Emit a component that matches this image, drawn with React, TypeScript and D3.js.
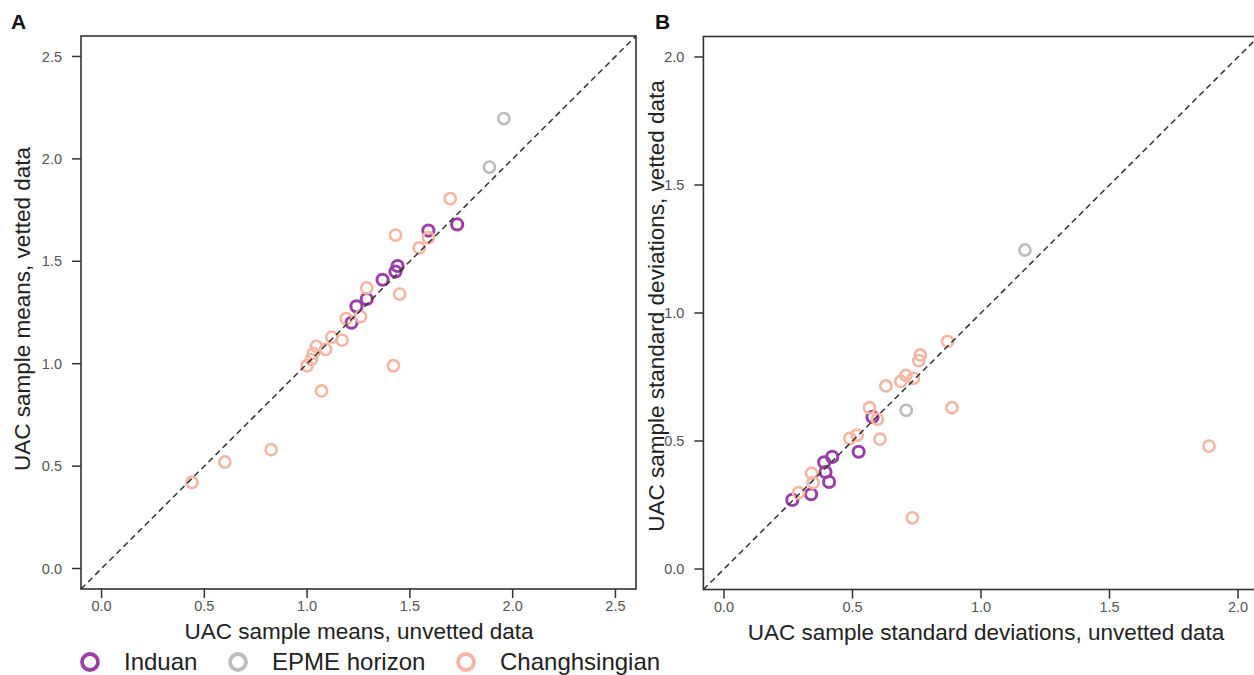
import React from "react";
import * as d3 from "d3";

// Panel A: sample means (unvetted x, vetted y)
const meansInduan = [
  [1.73, 1.68], [1.59, 1.65], [1.44, 1.477], [1.43, 1.45],
  [1.367, 1.41], [1.29, 1.316], [1.24, 1.28], [1.216, 1.2],
];
const meansEpme = [[1.957, 2.197], [1.887, 1.96]];
const meansChang = [
  [1.696, 1.806], [1.43, 1.628], [1.59, 1.615], [1.545, 1.565], [1.45, 1.34],
  [1.29, 1.37], [1.26, 1.23], [1.19, 1.22], [1.17, 1.115], [1.12, 1.13],
  [1.09, 1.07], [1.045, 1.085], [1.03, 1.05], [1.02, 1.02], [1.0, 0.99],
  [1.42, 0.99], [1.07, 0.867], [0.44, 0.42], [0.6, 0.52], [0.825, 0.58],
];

// Panel B: sample standard deviations (unvetted x, vetted y)
const sdInduan = [
  [0.578, 0.594], [0.524, 0.458], [0.421, 0.438], [0.39, 0.417],
  [0.395, 0.379], [0.409, 0.34], [0.339, 0.292], [0.266, 0.27],
];
const sdEpme = [[1.171, 1.246], [0.709, 0.62]];
const sdChang = [
  [0.87, 0.889], [0.764, 0.836], [0.758, 0.814], [0.708, 0.756], [0.688, 0.733],
  [0.737, 0.745], [0.63, 0.715], [0.887, 0.63], [0.566, 0.63], [0.597, 0.585],
  [0.607, 0.507], [0.518, 0.523], [0.49, 0.51], [0.341, 0.374], [0.347, 0.337],
  [0.29, 0.298], [0.733, 0.2], [1.887, 0.48],
];

const ticksA = [0, 0.5, 1, 1.5, 2, 2.5];
const ticksB = [0, 0.5, 1, 1.5, 2];

const legendItems = ["Induan", "EPME horizon", "Changhsingian"];
const colors: Record<string, string> = {
  Induan: "#9a3fa5",
  "EPME horizon": "#bdbdbd",
  Changhsingian: "#f5b6a3",
};

const FONT = "'Liberation Sans', Arial, Helvetica, sans-serif";
const INK = "#333";

type PanelProps = {
  label: string;
  labelX: number;
  domain: [number, number];
  xRange: [number, number];
  yRange: [number, number];
  ticks: number[];
  xTitle: string;
  xTitleX: number;
  yTitle: string;
  yTitleX: number;
  yTitleY: number;
  series: { name: string; pts: number[][] }[];
};

function Panel(p: PanelProps) {
  const { domain, xRange, yRange, ticks, series } = p;
  const x = d3.scaleLinear().domain(domain).range(xRange);
  const y = d3.scaleLinear().domain(domain).range(yRange);
  const fmt = d3.format(".1f");
  const [x0, x1] = xRange;
  const [yb, yt] = yRange;
  const line = d3.line<number>().x((d) => x(d)).y((d) => y(d));

  return (
    <g>
      <text x={p.labelX} y={29} fontFamily={FONT} fontWeight="bold" fontSize={21} fill="#111">
        {p.label}
      </text>
      {/* points */}
      {series.map((s) =>
        s.pts.map((d, i) => (
          <circle
            key={s.name + i}
            cx={x(d[0])}
            cy={y(d[1])}
            r={5.6}
            fill="none"
            stroke={colors[s.name]}
            strokeWidth={s.name === "Induan" ? 3 : 2.6}
          />
        ))
      )}
      {/* 1:1 line */}
      <path d={line(domain) || ""} stroke={INK} strokeWidth={1.5} strokeDasharray="6,4" fill="none" />
      <rect x={x0} y={yt} width={x1 - x0} height={yb - yt} fill="none" stroke={INK} strokeWidth={1.6} />
      {/* x ticks */}
      {ticks.map((t) => (
        <g key={"x" + t}>
          <line x1={x(t)} x2={x(t)} y1={yb} y2={yb + 9} stroke={INK} strokeWidth={1.5} />
          <text x={x(t)} y={yb + 22} textAnchor="middle" fontFamily={FONT} fontSize={14.5} fill="#555">
            {fmt(t)}
          </text>
        </g>
      ))}
      {/* y ticks */}
      {ticks.map((t) => (
        <g key={"y" + t}>
          <line x1={x0} x2={x0 - 9} y1={y(t)} y2={y(t)} stroke={INK} strokeWidth={1.5} />
          <text x={x0 - 19} y={y(t)} dy="0.35em" textAnchor="end" fontFamily={FONT} fontSize={14.5} fill="#555">
            {fmt(t)}
          </text>
        </g>
      ))}
      <text x={p.xTitleX} y={yb + 50} textAnchor="middle" fontFamily={FONT} fontSize={22.5} fill="#222">
        {p.xTitle}
      </text>
      <text
        transform={`translate(${p.yTitleX},${p.yTitleY}) rotate(-90)`}
        textAnchor="middle"
        fontFamily={FONT}
        fontSize={22.5}
        fill="#222"
      >
        {p.yTitle}
      </text>
    </g>
  );
}

export default function App() {
  const legendX = [90, 238, 466];
  return (
    <svg
      width={1254}
      height={675}
      style={{ position: "absolute", left: 0, top: 0, background: "#fff" }}
    >
      <Panel
        label="A"
        labelX={11}
        domain={[-0.1, 2.6]}
        xRange={[81, 636]}
        yRange={[589, 36]}
        ticks={ticksA}
        xTitle="UAC sample means, unvetted data"
        xTitleX={359}
        yTitle="UAC sample means, vetted data"
        yTitleX={30}
        yTitleY={309}
        series={[
          { name: "Induan", pts: meansInduan },
          { name: "EPME horizon", pts: meansEpme },
          { name: "Changhsingian", pts: meansChang },
        ]}
      />
      <Panel
        label="B"
        labelX={655}
        domain={[-0.08, 2.08]}
        xRange={[703.4, 1258.6]}
        yRange={[589.5, 36.5]}
        ticks={ticksB}
        xTitle="UAC sample standard deviations, unvetted data"
        xTitleX={986}
        yTitle="UAC sample standard deviations, vetted data"
        yTitleX={664}
        yTitleY={306}
        series={[
          { name: "Induan", pts: sdInduan },
          { name: "EPME horizon", pts: sdEpme },
          { name: "Changhsingian", pts: sdChang },
        ]}
      />
      {legendItems.map((name, i) => (
        <g key={name}>
          <circle cx={legendX[i]} cy={662} r={8} fill="none" stroke={colors[name]} strokeWidth={3.8} />
          <text x={legendX[i] + 34} y={662} dy="0.35em" fontFamily={FONT} fontSize={24} fill="#222">
            {name}
          </text>
        </g>
      ))}
    </svg>
  );
}
